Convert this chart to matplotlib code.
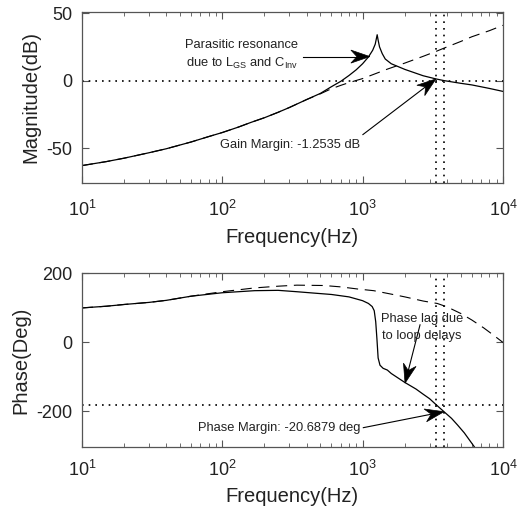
import matplotlib
matplotlib.use('Agg')
import matplotlib.pyplot as plt
from matplotlib.patches import Polygon
import numpy as np

plt.rcParams['font.family'] = ['Liberation Sans', 'DejaVu Sans']
plt.rcParams['mathtext.fontset'] = 'custom'
plt.rcParams['mathtext.rm'] = 'Liberation Sans'
plt.rcParams['mathtext.it'] = 'Liberation Sans:italic'
plt.rcParams['mathtext.bf'] = 'Liberation Sans:bold'
plt.rcParams['axes.unicode_minus'] = False

# magnitude (dB), solid = with parasitic resonance, dashed = without
f_mag = [10, 15, 20, 30, 40, 60, 80, 100, 130, 160, 200, 250, 300, 400, 500, 600, 700, 800, 900,
         1000, 1100, 1180, 1230, 1270, 1290, 1320, 1380, 1450, 1600, 2000, 2700,
         3330, 3800, 5000, 6000, 8000, 10000]
mag_solid = [-63, -60, -57.5, -53.5, -50.5, -45.5, -41.5, -38.5, -34.5, -31, -27.5, -23.5, -20,
             -14, -9.5, -4.5, -0.5, 3.8, 8, 12.5, 17.5, 22.5, 27, 34, 30, 25, 20, 16, 12.5, 8.3,
             3.6, 1.25, 0, -2, -3.2, -5.8, -8]
f_mag_d = [10, 15, 20, 30, 40, 60, 80, 100, 130, 160, 200, 250, 300, 400, 500, 600, 700, 800,
           1000, 1500, 2000, 2700, 3400, 4000, 5000, 6000, 8000, 10000]
mag_dash = [-63, -60, -57.5, -53.5, -50.5, -45.5, -41.5, -38.5, -34.5, -31, -27.5, -23.5, -20,
            -14, -9.8, -6, -3.5, -1.5, 1.5, 8.5, 13, 18, 22, 25, 29, 32.5, 37, 41]

# phase (deg)
f_ph = [10, 15, 20, 30, 40, 60, 100, 170, 250, 340, 450, 600, 800, 1000, 1100, 1170,
        1210, 1240, 1265, 1290, 1330, 1400, 1500, 1600, 2000, 2400, 2700, 3000, 3330,
        3800, 4300, 4740, 5300, 6240, 7000]
ph_solid = [100, 105, 110, 116, 122, 134, 144, 150, 151, 147, 143, 139, 132, 121, 113, 104,
            92, 60, 10, -45, -66, -75, -80, -90, -116, -135, -150, -163, -180,
            -200.7, -220, -239, -262, -302, -335]
f_ph_d = [10, 15, 20, 30, 40, 60, 100, 170, 250, 340, 530, 700, 916, 1200, 1600, 2000,
          2700, 3400, 4000, 5000, 6000, 7300, 8500, 10000]
ph_dash = [100, 105, 110, 116, 122, 134, 147, 158, 163, 166, 165, 161, 155, 150, 140, 132,
           120, 113, 103, 84, 65, 42, 22, 0]

f_pc = 3330   # phase crossover
f_gc = 3800   # gain crossover

dot = (0, (1, 3))
dash = (0, (10, 6))
frame = '#555555'
txt = '#222222'


def style(ax, yticks, ylim, ylabel, xpad, xlpad):
    ax.set_xscale('log')
    ax.set_xlim(10, 1e4)
    ax.set_ylim(*ylim)
    ax.set_yticks(yticks)
    ax.tick_params(which='both', direction='in', top=True, right=True, color=frame,
                   labelcolor=txt, labelsize=13)
    ax.tick_params(which='major', length=5, width=0.8)
    ax.tick_params(which='minor', length=3, width=0.6)
    ax.tick_params(axis='x', which='major', pad=xpad)
    ax.tick_params(axis='y', which='major', pad=7)
    for s in ax.spines.values():
        s.set_color(frame)
        s.set_linewidth(0.9)
    ax.set_xlabel('Frequency(Hz)', fontsize=14.5, color=txt, labelpad=xlpad)
    ax.set_ylabel(ylabel, fontsize=14.5, color=txt, labelpad=4)


def arrow(ax, tail, tip, L=19, W=6.5, N=6):
    # line with a notched (MATLAB-like) filled head, sized in pixels
    T = ax.transData
    p0 = T.transform(tail)
    p1 = T.transform(tip)
    d = (p1 - p0) / np.hypot(*(p1 - p0))
    n = np.array([-d[1], d[0]])
    back = p1 - d * L
    notch = p1 - d * (L - N)
    head = T.inverted().transform([p1, back + n * W, notch, back - n * W])
    ax.add_patch(Polygon(head, closed=True, facecolor='k', edgecolor='k', lw=0.5))
    seg = T.inverted().transform([p0, notch])
    ax.plot(seg[:, 0], seg[:, 1], color='k', lw=0.8)


fig = plt.figure(figsize=(5.18, 5.13), dpi=100)
ax1 = fig.add_axes([0.158, 0.643, 0.813, 0.334])
ax2 = fig.add_axes([0.158, 0.128, 0.813, 0.339])

# magnitude plot
ax1.plot(f_mag_d, mag_dash, color='k', lw=0.8, ls=dash)
ax1.plot(f_mag, mag_solid, color='k', lw=0.9)
ax1.axhline(0, color='k', lw=1.2, ls=dot)
ax1.axvline(f_pc, color='k', lw=1.2, ls=dot)
ax1.axvline(f_gc, color='k', lw=1.2, ls=dot)
style(ax1, [-50, 0, 50], (-76, 51), 'Magnitude(dB)', 12, 6)

ax1.text(138, 18.9, 'Parasitic resonance\ndue to L$_{\\mathrm{GS}}$ and C$_{\\mathrm{Inv}}$',
         ha='center', va='center', fontsize=9.3, color=txt, linespacing=1.5)
arrow(ax1, (376, 17.8), (1127, 17.8))
ax1.text(303, -48, 'Gain Margin: -1.2535 dB', ha='center', va='center', fontsize=9.3, color=txt)
arrow(ax1, (1005, -40), (f_pc, 1.25))

# phase plot
ax2.plot(f_ph_d, ph_dash, color='k', lw=0.8, ls=dash)
ax2.plot(f_ph, ph_solid, color='k', lw=0.9)
ax2.axhline(-180, color='k', lw=1.2, ls=dot)
ax2.axvline(f_pc, color='k', lw=1.2, ls=dot)
ax2.axvline(f_gc, color='k', lw=1.2, ls=dot)
style(ax2, [-200, 0, 200], (-304, 200), 'Phase(Deg)', 9, 5)

ax2.text(2637, 44, 'Phase lag due\nto loop delays', ha='center', va='center',
         fontsize=9.3, color=txt, linespacing=1.5)
arrow(ax2, (2565, 51), (2006, -118))
ax2.text(255, -249, 'Phase Margin: -20.6879 deg', ha='center', va='center', fontsize=9.3, color=txt)
arrow(ax2, (1012, -247), (f_gc, -200.7))

fig.savefig('out.png', dpi=100)
